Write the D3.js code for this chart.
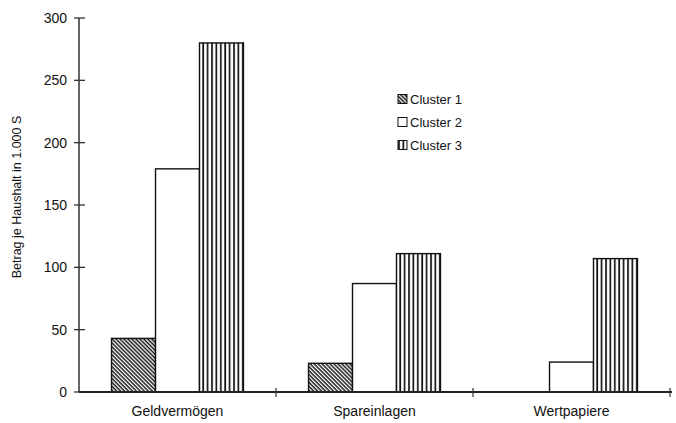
<!DOCTYPE html>
<html>
<head>
<meta charset="utf-8">
<script src="https://cdn.jsdelivr.net/npm/d3@7"></script>
<style>
  body { margin: 0; background: #fff; }
  text { font-family: "Liberation Sans", Arial, sans-serif; fill: #111; }
</style>
</head>
<body>
<div id="chart"></div>
<script>
// data
var categories = ["Geldvermögen", "Spareinlagen", "Wertpapiere"];
var clusters = ["Cluster 1", "Cluster 2", "Cluster 3"];
var cluster1 = [43, 23, 0];
var cluster2 = [179, 87, 24];
var cluster3 = [280, 111, 107];
var yTicks = [0, 50, 100, 150, 200, 250, 300];

var width = 676,
    height = 423;

var series = [cluster1, cluster2, cluster3];

var svg = d3.select("#chart").append("svg")
    .attr("width", width)
    .attr("height", height);

// fill patterns
var defs = svg.append("defs");

var hatch = defs.append("pattern")
    .attr("id", "pat1")
    .attr("patternUnits", "userSpaceOnUse")
    .attr("width", 2.8)
    .attr("height", 2.8)
    .attr("patternTransform", "rotate(45)");
hatch.append("rect").attr("width", 2.8).attr("height", 2.8).attr("fill", "#fff");
hatch.append("line")
    .attr("x1", 0).attr("y1", 0.7).attr("x2", 2.8).attr("y2", 0.7)
    .attr("stroke", "#111").attr("stroke-width", 1.5);

var vert = defs.append("pattern")
    .attr("id", "pat3")
    .attr("patternUnits", "userSpaceOnUse")
    .attr("width", 4.4)
    .attr("height", 10);
vert.append("rect").attr("width", 4.4).attr("height", 10).attr("fill", "#fff");
vert.append("line")
    .attr("x1", 1).attr("y1", 0).attr("x2", 1).attr("y2", 10)
    .attr("stroke", "#111").attr("stroke-width", 1.7);

var fills = ["url(#pat1)", "#fff", "url(#pat3)"];

// scales
var x0 = d3.scaleBand()
    .domain(categories)
    .range([79, 670])
    .padding(0);

var x1 = d3.scaleBand()
    .domain(clusters)
    .range([0, x0.bandwidth()])
    .paddingInner(0)
    .paddingOuter(0.74);

var y = d3.scaleLinear()
    .domain([0, 300])
    .range([392, 18]);

// bars
var groups = svg.selectAll(".group")
    .data(categories)
  .enter().append("g")
    .attr("class", "group")
    .attr("transform", function(d){ return "translate(" + x0(d) + ",0)"; });

groups.selectAll("rect")
    .data(function(d, i){
        return clusters.map(function(c, j){ return {c: c, j: j, v: series[j][i]}; });
    })
  .enter().append("rect")
    .filter(function(d){ return d.v > 0; })
    .attr("x", function(d){ return x1(d.c); })
    .attr("y", function(d){ return y(d.v); })
    .attr("width", x1.bandwidth())
    .attr("height", function(d){ return y(0) - y(d.v); })
    .attr("fill", function(d){ return fills[d.j]; })
    .attr("stroke", "#111")
    .attr("stroke-width", 1.4);

// y axis
var yAxis = svg.append("g").attr("class", "yaxis");
yAxis.append("line")
    .attr("x1", 79).attr("x2", 79)
    .attr("y1", y(300)).attr("y2", y(0))
    .attr("stroke", "#333").attr("stroke-width", 1.5);
yAxis.selectAll(".tick")
    .data(yTicks)
  .enter().append("line")
    .attr("x1", 74).attr("x2", 85)
    .attr("y1", function(d){ return y(d); })
    .attr("y2", function(d){ return y(d); })
    .attr("stroke", "#333").attr("stroke-width", 1.3);
yAxis.selectAll("text")
    .data(yTicks)
  .enter().append("text")
    .attr("x", 67)
    .attr("y", function(d){ return y(d); })
    .attr("dy", "0.36em")
    .attr("text-anchor", "end")
    .style("font-size", "14px")
    .text(function(d){ return d; });

svg.append("text")
    .attr("transform", "translate(21,197) rotate(-90)")
    .attr("text-anchor", "middle")
    .style("font-size", "12.5px")
    .text("Betrag je Haushalt in 1.000 S");

// x axis
var xAxis = svg.append("g").attr("class", "xaxis");
xAxis.append("line")
    .attr("x1", 79).attr("x2", 672)
    .attr("y1", y(0)).attr("y2", y(0))
    .attr("stroke", "#222").attr("stroke-width", 1.8);
xAxis.selectAll(".tick")
    .data(categories)
  .enter().append("line")
    .attr("x1", function(d){ return x0(d) + x0.bandwidth(); })
    .attr("x2", function(d){ return x0(d) + x0.bandwidth(); })
    .attr("y1", y(0) - 4).attr("y2", y(0) + 5)
    .attr("stroke", "#333").attr("stroke-width", 1.2);
xAxis.selectAll("text")
    .data(categories)
  .enter().append("text")
    .attr("x", function(d){ return x0(d) + x0.bandwidth() / 2; })
    .attr("y", 416)
    .attr("text-anchor", "middle")
    .style("font-size", "14px")
    .text(function(d){ return d; });

// legend
var legend = svg.selectAll(".legend")
    .data(clusters)
  .enter().append("g")
    .attr("class", "legend")
    .attr("transform", function(d, i){ return "translate(398," + (99 + i * 23) + ")"; });

legend.append("rect")
    .attr("x", 0).attr("y", -4.5)
    .attr("width", 9).attr("height", 9)
    .attr("fill", function(d, i){ return fills[i]; })
    .attr("stroke", "#111").attr("stroke-width", 1);

legend.append("text")
    .attr("x", 12)
    .attr("y", 0)
    .attr("dy", "0.36em")
    .style("font-size", "13px")
    .text(function(d){ return d; });
</script>
</body>
</html>
